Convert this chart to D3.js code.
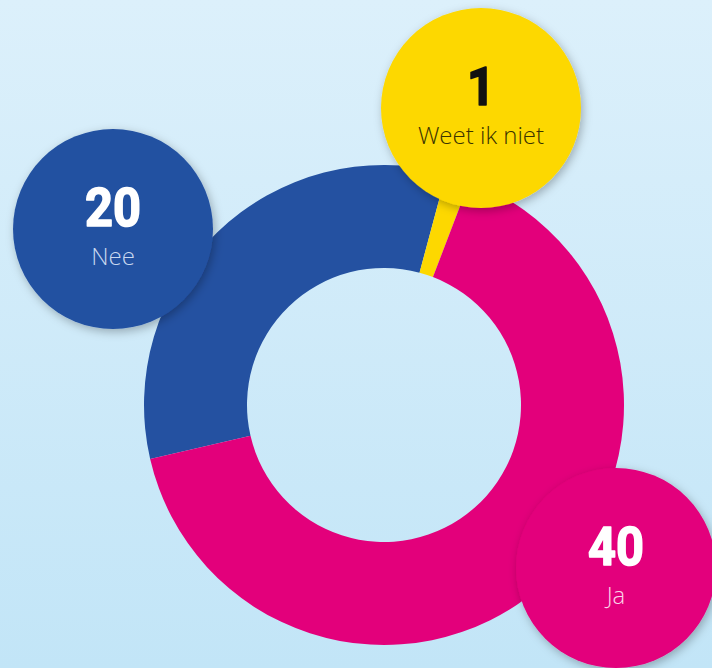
<!DOCTYPE html>
<html>
<head>
<meta charset="utf-8">
<script src="https://cdn.jsdelivr.net/npm/d3@7"></script>
<style>
  html, body { margin: 0; padding: 0; overflow: hidden; }
  svg { display: block; }
</style>
</head>
<body>
<div id="chart"></div>
<script>
const categories = ['Nee', 'Weet ik niet', 'Ja'];
const values = [20, 1, 40];
const colors = ['#2451a1', '#fdd800', '#e3007b'];
const number_colors = ['#ffffff', '#111111', '#ffffff'];
const label_colors = ['#c9d8f0', '#3a3300', '#fbd3e8'];

(function() {
    const width = 712, height = 668;
    const cx = 384, cy = 405;
    const outer = 240, inner = 137;
    const start = 257 * Math.PI / 180;

    // bubble placement per category (layout only)
    const bubbles = [
        { x: 113, y: 229 },
        { x: 481, y: 108 },
        { x: 616, y: 568 }
    ];
    const bubble_r = 100;

    let svg = d3.select('#chart').append('svg')
        .attr('width', width)
        .attr('height', height);

    let defs = svg.append('defs');
    let grad = defs.append('linearGradient')
        .attr('id', 'bg')
        .attr('x1', 0).attr('y1', 0).attr('x2', 0).attr('y2', 1);
    grad.append('stop').attr('offset', '0%').attr('stop-color', '#dcf0fb');
    grad.append('stop').attr('offset', '100%').attr('stop-color', '#c2e5f7');

    let shadow = defs.append('filter')
        .attr('id', 'shadow')
        .attr('x', '-20%').attr('y', '-20%')
        .attr('width', '140%').attr('height', '140%');
    shadow.append('feDropShadow')
        .attr('dx', 2).attr('dy', 3)
        .attr('stdDeviation', 5)
        .attr('flood-color', '#000')
        .attr('flood-opacity', 0.28);

    svg.append('rect')
        .attr('width', width)
        .attr('height', height)
        .attr('fill', 'url(#bg)');

    let data = categories.map((c, i) => ({ name: c, value: values[i], i: i }));

    let pie = d3.pie()
        .sort(null)
        .value((d) => d.value)
        .startAngle(start)
        .endAngle(start + 2 * Math.PI);

    let arc = d3.arc()
        .innerRadius(inner)
        .outerRadius(outer);

    let ring = svg.append('g')
        .attr('transform', 'translate(' + cx + ',' + cy + ')');

    ring.selectAll('path')
        .data(pie(data))
        .enter().append('path')
        .attr('d', arc)
        .attr('fill', (d) => colors[d.data.i]);

    let labels = svg.selectAll('g.bubble')
        .data(data)
        .enter().append('g')
        .attr('class', 'bubble')
        .attr('transform', (d) => 'translate(' + bubbles[d.i].x + ',' + bubbles[d.i].y + ')');

    labels.append('circle')
        .attr('r', bubble_r)
        .attr('fill', (d) => colors[d.i])
        .attr('filter', 'url(#shadow)');

    // heavy numbers: bold face thickened with a matching stroke
    labels.append('text')
        .attr('transform', 'translate(0,-3) scale(0.92,1)')
        .attr('text-anchor', 'middle')
        .attr('font-family', 'Roboto, "Open Sans", sans-serif')
        .attr('font-weight', 700)
        .attr('font-size', 53)
        .attr('fill', (d) => number_colors[d.i])
        .attr('stroke', (d) => number_colors[d.i])
        .attr('stroke-width', 1.6)
        .attr('stroke-linejoin', 'round')
        .text((d) => d.value);

    labels.append('text')
        .attr('y', 36)
        .attr('text-anchor', 'middle')
        .attr('font-family', '"Open Sans", Lato, sans-serif')
        .attr('font-weight', 300)
        .attr('font-size', 24)
        .attr('fill', (d) => label_colors[d.i])
        .text((d) => d.name);
}());
</script>
</body>
</html>
